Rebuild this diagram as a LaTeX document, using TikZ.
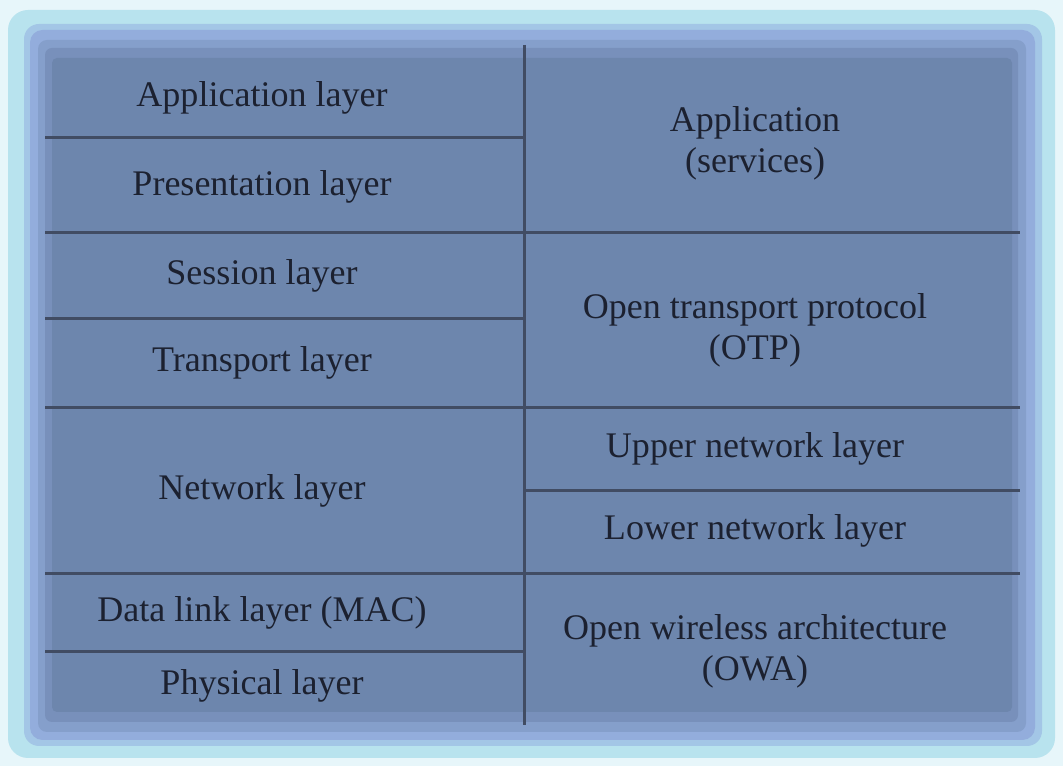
\documentclass[tikz,border=0pt]{standalone}
\usepackage{fontspec}
\setmainfont{Liberation Serif}
\usepackage{tikz}
\definecolor{pagebg}{HTML}{E7F6FA}
\definecolor{glowcyan}{HTML}{B8E3EE}
\definecolor{glowpale}{HTML}{A3C6E6}
\definecolor{glowblue}{HTML}{93ADDC}
\definecolor{glowmid}{HTML}{859FCB}
\definecolor{glowdeep}{HTML}{7890BB}
\definecolor{boxfill}{HTML}{6D86AD}
\definecolor{rulecol}{HTML}{414C63}
\definecolor{inkcol}{HTML}{1C2130}

\begin{document}
\begin{tikzpicture}[
  x=0.02cm, y=-0.02cm,
  rule/.style={draw=rulecol, line width=0.06cm},
  layer/.style={font=\fontsize{20.5}{23.3}\selectfont, text=inkcol, align=center, inner sep=0pt}
]
\useasboundingbox[fill=pagebg] (0,0) rectangle (1063,766);
% soft glow round the table
\fill[glowcyan, rounded corners=0.4cm] (8,10) rectangle (1055,758);
\fill[glowpale, rounded corners=0.3cm] (24,24) rectangle (1042,746);
\fill[glowblue, rounded corners=0.25cm] (30,30) rectangle (1035,740);
\fill[glowmid, rounded corners=0.18cm] (38,40) rectangle (1026,732);
\fill[glowdeep, rounded corners=0.14cm] (45,48) rectangle (1018,722);
\fill[boxfill, rounded corners=0.1cm] (52,58) rectangle (1012,712);
% cell rules
\foreach \y in {138,233,319,408,574,652}
  \draw[rule] (45,\y) -- (524,\y);
\foreach \y in {233,408,491,574}
  \draw[rule] (524,\y) -- (1020,\y);
\draw[rule] (524,45) -- (524,725);
% OSI side
\node[layer] (appl) at (262,98) {Application layer};
\node[layer] (pres) at (262,187) {Presentation layer};
\node[layer] (sess) at (262,276) {Session layer};
\node[layer] (trans) at (262,363) {Transport layer};
\node[layer] (net) at (262,491) {Network layer};
\node[layer] (dll) at (262,613) {Data link layer (MAC)};
\node[layer] (phys) at (262,686) {Physical layer};
% 4G side
\node[layer] (appsvc) at (755,143) {Application\\(services)};
\node[layer] (otp) at (755,330) {Open transport protocol\\(OTP)};
\node[layer] (upnet) at (755,449) {Upper network layer};
\node[layer] (lownet) at (755,531) {Lower network layer};
\node[layer] (owa) at (755,651) {Open wireless architecture\\(OWA)};
\end{tikzpicture}
\end{document}
